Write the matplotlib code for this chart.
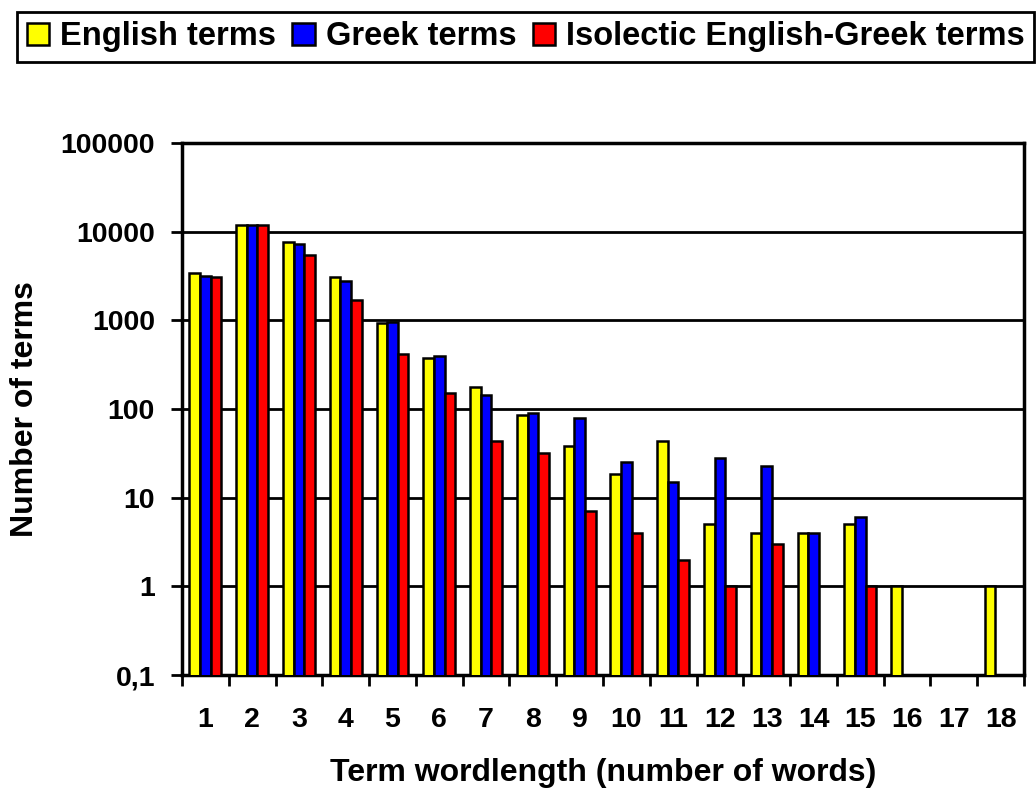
import numpy as np
import matplotlib
matplotlib.use('Agg')
from matplotlib import pyplot as plt
from matplotlib.ticker import FixedLocator, FuncFormatter

plt.rcParams['font.family'] = ['Liberation Sans', 'DejaVu Sans']
plt.rcParams['font.weight'] = 'bold'

# data (nan = no bar)
categories = [str(i) for i in range(1, 19)]
english = [3400, 12000, 7700, 3100, 930, 375, 176, 85, 38, 18.5, 43, 5, 4, 4, 5, 1, np.nan, 1]
greek = [3150, 11900, 7200, 2750, 950, 400, 142, 91, 79, 25.5, 15, 28, 23, 4, 6, np.nan, np.nan, np.nan]
isolectic = [3100, 11900, 5450, 1700, 420, 150, 43, 32, 7, 4, 2, 1, 3, np.nan, 1, np.nan, np.nan, np.nan]
series_names = ['English terms', 'Greek terms', 'Isolectic English-Greek terms']
colors = ['#ffff00', '#0000ff', '#ff0000']

fig = plt.figure(figsize=(10.36, 7.91), dpi=100)
ax = fig.add_axes([182 / 1036, 1 - 675 / 791, (1024 - 182) / 1036, (675 - 143) / 791])

x = np.arange(len(categories))
w = 0.228
for i, (vals, name, c) in enumerate(zip([english, greek, isolectic], series_names, colors)):
    ax.bar(x + (i - 1) * w, vals, w, color=c, edgecolor='black', linewidth=1.8,
           label=name, zorder=3)

ax.set_yscale('log')
ax.set_ylim(0.1, 100000)
ax.set_xlim(-0.5, len(categories) - 0.5)

# horizontal gridlines at each decade
ax.yaxis.set_major_locator(FixedLocator([0.1, 1, 10, 100, 1000, 10000, 100000]))
ax.yaxis.set_minor_locator(FixedLocator([]))
ax.yaxis.set_major_formatter(FuncFormatter(lambda v, p: '0,1' if v < 1 else '%d' % v))
ax.grid(axis='y', color='black', linewidth=2, zorder=0)

ax.set_xticks(x)
ax.set_xticklabels(categories)
ax.set_xticks(np.arange(len(categories) + 1) - 0.5, minor=True)
ax.tick_params(axis='x', which='major', length=0, pad=23, labelsize=20.5)
ax.tick_params(axis='x', which='minor', length=8, width=2, direction='out')
ax.tick_params(axis='y', which='major', length=8, width=2, pad=11.5, labelsize=20.5)

for s in ax.spines.values():
    s.set_linewidth(2.5)

ax.set_xlabel('Term wordlength (number of words)', fontsize=23, fontweight='bold')
ax.set_ylabel('Number of terms', fontsize=23, fontweight='bold')
ax.xaxis.set_label_coords(0.5, -0.156)
ax.yaxis.set_label_coords(-0.169, 0.5)

leg = fig.legend(loc='upper left', bbox_to_anchor=(17 / 1036, 1 - 11.5 / 791), ncol=3,
                 fancybox=False, edgecolor='black', framealpha=1,
                 prop={'size': 23.5, 'weight': 'bold'},
                 handlelength=0.68, handleheight=0.68, handletextpad=0.34,
                 columnspacing=0.5, borderpad=0.3, borderaxespad=0)
leg.get_frame().set_linewidth(2)

fig.savefig('out.png', dpi=100)
